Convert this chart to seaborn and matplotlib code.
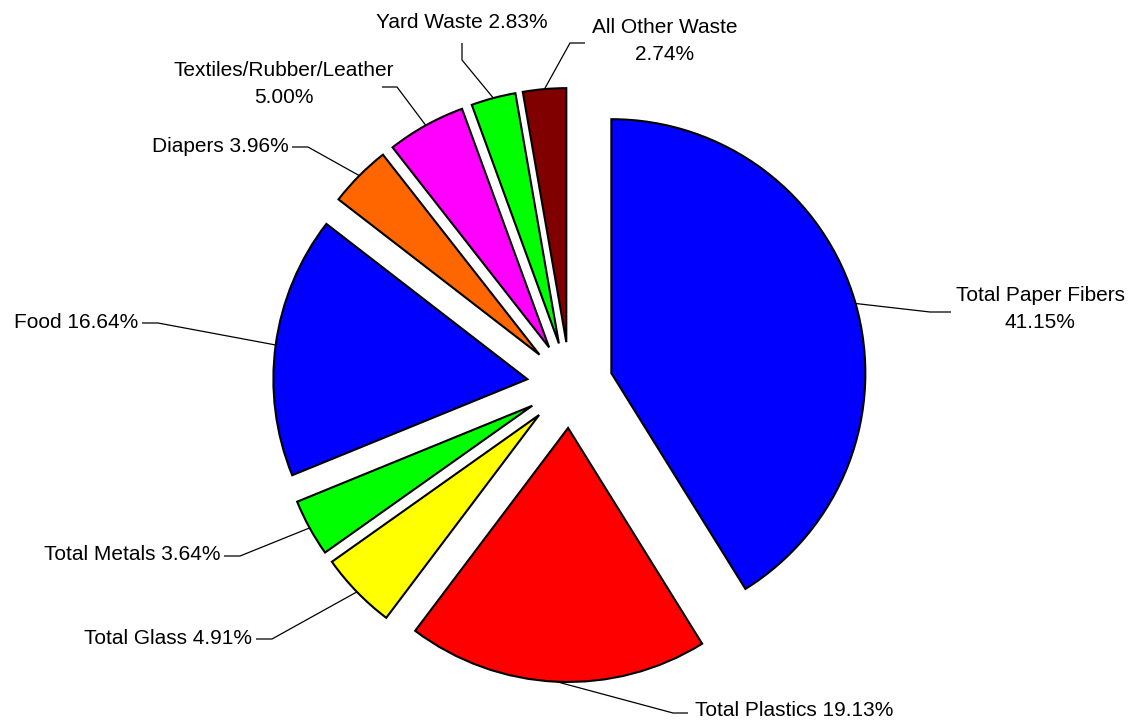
import numpy as np
import matplotlib
matplotlib.use('Agg')
import matplotlib.pyplot as plt
import seaborn as sns

# Waste composition data ------------------------------------------------------
categories = ['Total Paper Fibers', 'Total Plastics', 'Total Glass',
              'Total Metals', 'Food', 'Diapers', 'Textiles/Rubber/Leather',
              'Yard Waste', 'All Other Waste']
shares = [41.15, 19.13, 4.91, 3.64, 16.64, 3.96, 5.00, 2.83, 2.74]
colors = ['#0000FF', '#FF0000', '#FFFF00', '#00FF00', '#0000FF',
          '#FF6600', '#FF00FF', '#00FF00', '#800000']
label_texts = ['Total Paper Fibers\n41.15%', 'Total Plastics 19.13%',
               'Total Glass 4.91%', 'Total Metals 3.64%', 'Food 16.64%',
               'Diapers 3.96%', 'Textiles/Rubber/Leather\n5.00%',
               'Yard Waste 2.83%', 'All Other Waste\n2.74%']

# Layout (pixel coords, y measured from top) ----------------------------------
W, H = 1143, 724
center = (570, 385)
radius = 254
explode = 43

# text position, alignment, elbow and end point of the leader line
label_pos = [(1040, 309), (695, 711), (252, 638), (220, 555), (138, 322),
             (289, 147), (284, 84), (462, 22), (665, 41)]
label_ha = ['center', 'left', 'right', 'right', 'right',
            'right', 'center', 'center', 'center']
elbows = [(930, 312), (673, 713), (272, 639), (240, 556), (158, 323),
          (308, 147), (397, 87), (462, 60), (570, 43)]
ends = [(951, 312), (688, 713), (256, 639), (224, 556), (142, 323),
        (292, 147), (382, 87), (462, 43), (585, 43)]

sns.set_theme(style='white')
plt.rcParams['font.family'] = ['Liberation Sans', 'DejaVu Sans']

fig = plt.figure(figsize=(W / 100, H / 100), dpi=100)
ax = fig.add_axes([0, 0, 1, 1])

cx, cy = center[0], H - center[1]
ax.pie(shares, colors=colors, radius=radius, center=(cx, cy),
       explode=[explode] * len(shares), startangle=90, counterclock=False,
       wedgeprops=dict(edgecolor='black', linewidth=1.5))

# Leader lines from the middle of each wedge's outer edge
fracs = np.array(shares) / np.sum(shares)
start = 90 - 360 * np.concatenate([[0], np.cumsum(fracs)[:-1]])
mids = np.deg2rad(start - 180 * fracs)
for i, m in enumerate(mids):
    ox = cx + explode * np.cos(m)
    oy = cy + explode * np.sin(m)
    ax0, ay0 = ox + radius * np.cos(m), oy + radius * np.sin(m)
    ex, ey = elbows[i]
    fx, fy = ends[i]
    ax.plot([ax0, ex, fx], [ay0, H - ey, H - fy], color='black', lw=0.9,
            solid_capstyle='butt')
    tx, ty = label_pos[i]
    ax.text(tx, H - ty, label_texts[i], ha=label_ha[i], va='center',
            fontsize=15, color='black', linespacing=1.55,
            multialignment='center')

ax.set_xlim(0, W)
ax.set_ylim(0, H)
ax.set_aspect('auto')
ax.axis('off')

fig.savefig('out.png', dpi=100, facecolor='white')
